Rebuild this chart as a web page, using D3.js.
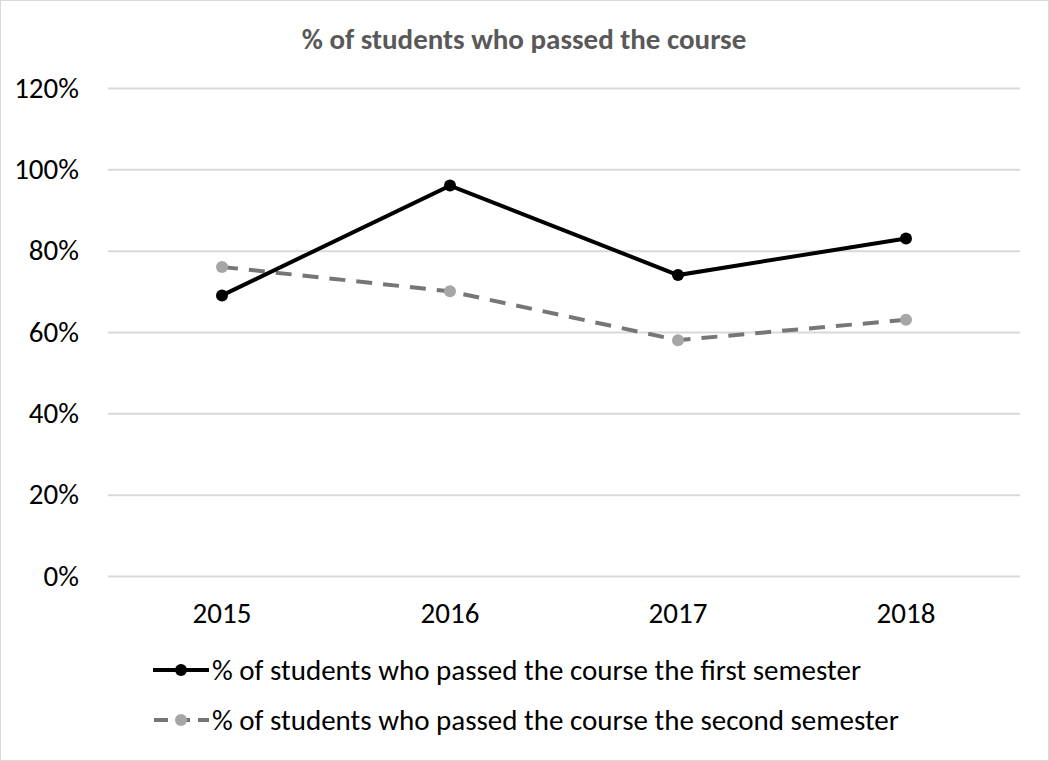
<!DOCTYPE html>
<html><head><meta charset="utf-8">
<script src="https://cdn.jsdelivr.net/npm/d3@7"></script>
<style>body{margin:0;background:#fff}svg{display:block}text{font-family:Carlito,Lato,sans-serif}</style>
</head><body>
<svg id="c" width="1049" height="761"></svg>
<script>
const categories = ["2015","2016","2017","2018"];
const firstSemester = [0.69,0.96,0.74,0.83];
const secondSemester = [0.76,0.70,0.58,0.63];
const yTicks = [0,0.2,0.4,0.6,0.8,1.0,1.2];
const seriesNames = ["% of students who passed the course the first semester","% of students who passed the course the second semester"];
const title = "% of students who passed the course";

const svg = d3.select("#c");
svg.append("rect").attr("x",0.5).attr("y",0.5).attr("width",1048).attr("height",760).attr("fill","#fff").attr("stroke","#d9d9d9");
const x = d3.scaleBand().domain(categories).range([108,1020]);
const y = d3.scaleLinear().domain([0,1.2]).range([576,88]);

svg.append("text").attr("x",524).attr("y",49).attr("text-anchor","middle").attr("font-size",29).attr("font-weight","bold").attr("fill","#595959").text(title);

const ya = svg.append("g").attr("transform","translate(108,0)").call(d3.axisLeft(y).tickValues(yTicks).tickFormat(d3.format(".0%")).tickSize(-912).tickPadding(29));
ya.select(".domain").remove();
ya.selectAll("line").attr("stroke","#d9d9d9").attr("stroke-width",2);
ya.selectAll("text").attr("font-size",29).attr("fill","#000").attr("font-family",null);

const xa = svg.append("g").attr("transform","translate(0,576)").call(d3.axisBottom(x).tickSize(0).tickPadding(26));
xa.select(".domain").remove();
xa.selectAll("text").attr("font-size",29).attr("fill","#000").attr("font-family",null);

const line = d3.line().x((d,i)=>x(categories[i])+x.bandwidth()/2).y(d=>y(d));
svg.append("path").datum(secondSemester).attr("d",line).attr("fill","none").attr("stroke","#767676").attr("stroke-width",4).attr("stroke-dasharray","16,11");
svg.append("g").selectAll("circle").data(secondSemester).join("circle").attr("cx",(d,i)=>x(categories[i])+x.bandwidth()/2).attr("cy",d=>y(d)).attr("r",6).attr("fill","#a6a6a6");
svg.append("path").datum(firstSemester).attr("d",line).attr("fill","none").attr("stroke","#000").attr("stroke-width",4);
svg.append("g").selectAll("circle").data(firstSemester).join("circle").attr("cx",(d,i)=>x(categories[i])+x.bandwidth()/2).attr("cy",d=>y(d)).attr("r",6).attr("fill","#000");

const lg = svg.append("g");
const items = [{name:seriesNames[0],stroke:"#000",fill:"#000",dash:null,y:670},{name:seriesNames[1],stroke:"#767676",fill:"#a6a6a6",dash:"14,8",y:720}];
items.forEach(it=>{
  lg.append("line").attr("x1",153).attr("x2",209).attr("y1",it.y).attr("y2",it.y).attr("stroke",it.stroke).attr("stroke-width",4).attr("stroke-dasharray",it.dash).attr("stroke-dashoffset",it.dash?-1:null);
  lg.append("circle").attr("cx",181).attr("cy",it.y).attr("r",6).attr("fill",it.fill);
  lg.append("text").attr("x",212).attr("y",it.y+10).attr("font-size",29).attr("fill","#000").text(it.name);
});
</script></body></html>
